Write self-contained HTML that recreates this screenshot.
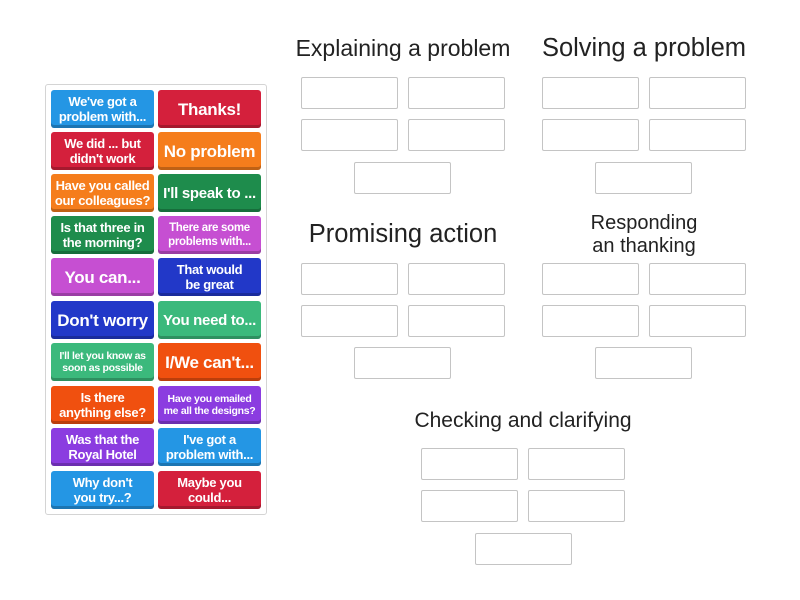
<!DOCTYPE html>
<html><head><meta charset="utf-8"><style>
body{margin:0;width:800px;height:600px;background:#fff;position:relative;overflow:hidden;font-family:"Liberation Sans",sans-serif}
.t{position:absolute;color:#222;text-align:center;white-space:nowrap;line-height:1}
.b{position:absolute;width:95px;height:30px;border:1px solid #c4c4c4;border-radius:2px;background:#fff}
.p{position:absolute;left:45px;top:84px;width:220px;height:429px;border:1px solid #d4d4d4;border-radius:3px}
.c{position:absolute;width:103px;height:38px;border-radius:3px;color:#fff;display:flex;align-items:center;justify-content:center;text-align:center;font-weight:bold;font-size:13px;line-height:15px;box-shadow:inset 0 -3px 0 rgba(0,0,0,.22);letter-spacing:-0.3px}
.l{left:51px}.r{left:158px}
.big{font-size:17px}
.sm{font-size:10.5px;line-height:12px}
</style></head><body>
<div class="t" style="left:283px;top:37px;width:240px;font-size:23px">Explaining a problem</div>
<div class="t" style="left:524px;top:36px;width:240px;font-size:25.5px">Solving a problem</div>
<div class="t" style="left:283px;top:222px;width:240px;font-size:25.5px">Promising action</div>
<div class="t" style="left:524px;top:212px;width:240px;font-size:20px;line-height:23px">Responding<br>an thanking</div>
<div class="t" style="left:403px;top:410px;width:240px;font-size:21px">Checking and clarifying</div>

<div class="b" style="left:301px;top:77px"></div><div class="b" style="left:408px;top:77px"></div>
<div class="b" style="left:301px;top:119px"></div><div class="b" style="left:408px;top:119px"></div>
<div class="b" style="left:354px;top:162px"></div>
<div class="b" style="left:542px;top:77px"></div><div class="b" style="left:649px;top:77px"></div>
<div class="b" style="left:542px;top:119px"></div><div class="b" style="left:649px;top:119px"></div>
<div class="b" style="left:595px;top:162px"></div>
<div class="b" style="left:301px;top:263px"></div><div class="b" style="left:408px;top:263px"></div>
<div class="b" style="left:301px;top:305px"></div><div class="b" style="left:408px;top:305px"></div>
<div class="b" style="left:354px;top:347px"></div>
<div class="b" style="left:542px;top:263px"></div><div class="b" style="left:649px;top:263px"></div>
<div class="b" style="left:542px;top:305px"></div><div class="b" style="left:649px;top:305px"></div>
<div class="b" style="left:595px;top:347px"></div>
<div class="b" style="left:421px;top:448px"></div><div class="b" style="left:528px;top:448px"></div>
<div class="b" style="left:421px;top:490px"></div><div class="b" style="left:528px;top:490px"></div>
<div class="b" style="left:475px;top:533px"></div>

<div class="p"></div>
<div class="c l" style="top:90px;background:#2496e4">We've got a<br>problem with...</div>
<div class="c r big" style="top:90px;background:#d4203c">Thanks!</div>
<div class="c l" style="top:132px;background:#d4203c">We did ... but<br>didn't work</div>
<div class="c r big" style="top:132px;background:#f57d1c">No problem</div>
<div class="c l" style="top:174px;background:#f57d1c">Have you called<br>our colleagues?</div>
<div class="c r" style="top:174px;background:#1e8c4c;font-size:15px">I'll speak to ...</div>
<div class="c l" style="top:216px;background:#1e8c4c">Is that three in<br>the morning?</div>
<div class="c r" style="top:216px;background:#c64fd2;font-size:11.5px;line-height:14px">There are some<br>problems with...</div>
<div class="c l big" style="top:258px;background:#c64fd2">You can...</div>
<div class="c r" style="top:258px;background:#2238c8">That would<br>be great</div>
<div class="c l big" style="top:301px;background:#2238c8">Don't worry</div>
<div class="c r" style="top:301px;background:#3bb97c;font-size:15px">You need to...</div>
<div class="c l sm" style="top:343px;background:#3bb97c">I'll let you know as<br>soon as possible</div>
<div class="c r big" style="top:343px;background:#f0500f">I/We can't...</div>
<div class="c l" style="top:386px;background:#f0500f">Is there<br>anything else?</div>
<div class="c r sm" style="top:386px;background:#8b3ce0">Have you emailed<br>me all the designs?</div>
<div class="c l" style="top:428px;background:#8b3ce0">Was that the<br>Royal Hotel</div>
<div class="c r" style="top:428px;background:#2496e4">I've got a<br>problem with...</div>
<div class="c l" style="top:471px;background:#2496e4">Why don't<br>you try...?</div>
<div class="c r" style="top:471px;background:#d4203c">Maybe you<br>could...</div>
</body></html>
